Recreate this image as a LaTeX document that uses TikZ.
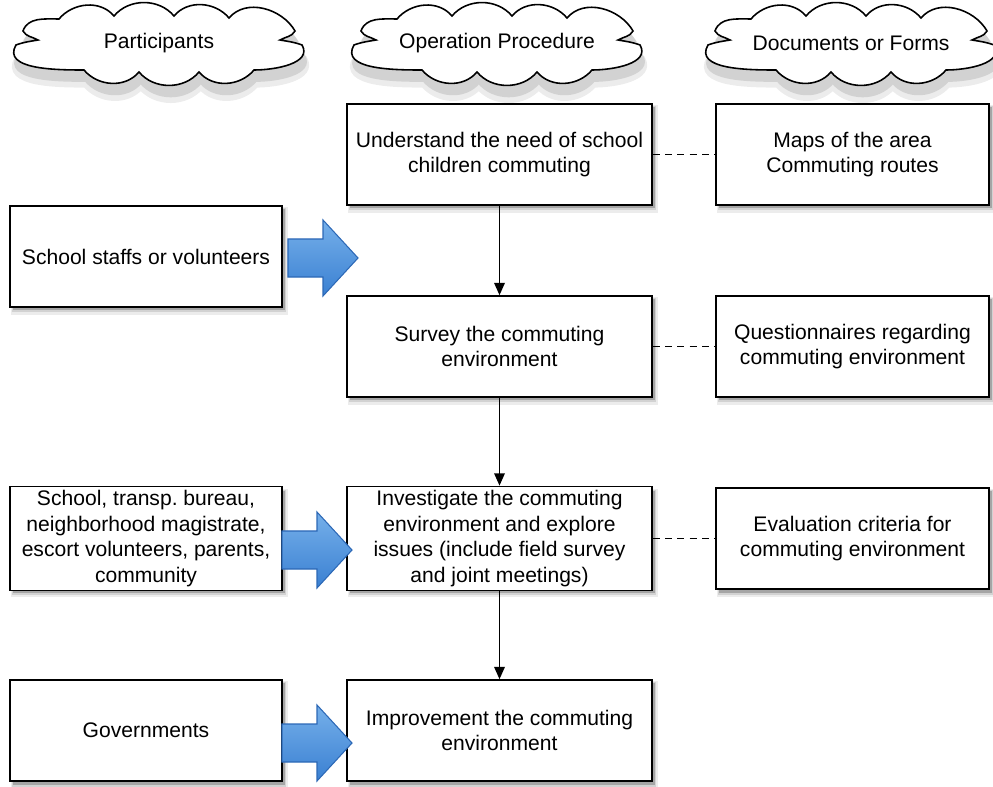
\documentclass[tikz,border=0pt]{standalone}
\usepackage{fontspec}
\setmainfont{Liberation Sans}
\usetikzlibrary{arrows.meta}
\definecolor{arrowtop}{RGB}{118, 176, 234}
\definecolor{arrowbot}{RGB}{58, 128, 210}
\definecolor{arrowedge}{RGB}{44, 104, 182}
\definecolor{shadeA}{RGB}{236, 236, 236}
\definecolor{shadeB}{RGB}{210, 210, 210}
\definecolor{shadeC}{RGB}{165, 165, 165}

% outline of the scroll-like cloud, in px around its centre
\newcommand\bannerpath{(-136,12) to[out=70,in=180] (-100,24)
  to[out=50,in=130] (-45,27) to[out=50,in=130] (15,27)
  to[out=50,in=130] (70,25) to[out=50,in=120] (136,12)
  to[out=-120,in=30] (121,3) to[out=-10,in=160] (143,-2)
  to[out=-60,in=0] (95,-27) to[out=-130,in=-50] (40,-29)
  to[out=-130,in=-50] (-20,-29) to[out=-130,in=-50] (-75,-27)
  to[out=180,in=-120] (-143,-2) to[out=20,in=190] (-121,3)
  to[out=150,in=-60] cycle}

\tikzset{
  headtext/.style={font=\fontsize{12}{14.7}\selectfont, inner sep=0pt},
  stepbox/.style={draw, line width=0.9pt, fill=white, minimum height=2.02cm, align=center, inner sep=2pt,
    font=\fontsize{12}{14.7}\selectfont},
  flow/.style={line width=0.9pt, -{Triangle[length=7pt, width=6pt]}},
  link/.style={line width=0.8pt, dash pattern=on 4pt off 3pt},
  pics/banner/.style={code={
    \begin{scope}[x=0.02cm, y=0.02cm]
      \filldraw[shadeA, line width=4pt, xshift=1, yshift=-8] \bannerpath;
      \filldraw[shadeB, line width=1.5pt, xshift=1, yshift=-6] \bannerpath;
      \draw[line width=0.9pt, fill=white] \bannerpath;
    \end{scope}
  }},
  % fat blue arrow pointing right
  pics/blockarrow/.style={code={
    \draw[arrowedge, line width=0.6pt, top color=arrowtop, bottom color=arrowbot, x=0.02cm, y=0.02cm]
      (-35,-19) -- (0,-19) -- (0,-38) -- (35,0) -- (0,38) -- (0,19) -- (-35,19) -- cycle;
  }}
}

\begin{document}
\begin{tikzpicture}
  \useasboundingbox (0,0) rectangle (19.86,-15.74);

  % Column headers
  \pic at (3.18, -0.86) {banner};
  \pic at (9.94, -0.86) {banner};
  \pic at (17.02, -0.86) {banner};
  \node[headtext] (hpart) at (3.18, -0.86) {Participants};
  \node[headtext] (hproc) at (9.94, -0.86) {Operation Procedure};
  \node[headtext] (hdoc) at (17.02, -0.86) {Documents or Forms};

  % soft shadows under the boxes (centre x / centre y / width)
  \foreach \cx/\cy/\w in {9.99/-3.09/6.1, 9.99/-6.93/6.1, 9.99/-10.77/6.1, 9.99/-14.61/6.1,
                          2.92/-5.13/5.44, 2.92/-10.77/5.44, 2.92/-14.61/5.44,
                          17.05/-3.09/5.46, 17.05/-6.93/5.46, 17.05/-10.77/5.46} {
    \fill[shadeA] (\cx-\w/2+0.02, \cy-1.01-0.16) rectangle (\cx+\w/2+0.12, \cy+1.01-0.02);
    \fill[shadeB] (\cx-\w/2+0.04, \cy-1.01-0.11) rectangle (\cx+\w/2+0.08, \cy+1.01-0.04);
    \fill[shadeC] (\cx-\w/2+0.06, \cy-1.01-0.07) rectangle (\cx+\w/2+0.05, \cy+1.01-0.06);
  }

  % Operation procedure
  \node[stepbox, minimum width=6.1cm] (understand) at (9.99, -3.09) {Understand the need of school\\children commuting};
  \node[stepbox, minimum width=6.1cm] (survey) at (9.99, -6.93) {Survey the commuting\\environment};
  \node[stepbox, minimum width=6.1cm] (investigate) at (9.99, -10.77) {Investigate the commuting\\environment and explore\\issues (include field survey\\and joint meetings)};
  \node[stepbox, minimum width=6.1cm] (improve) at (9.99, -14.61) {Improvement the commuting\\environment};

  % Participants
  \node[stepbox, minimum width=5.44cm] (staff) at (2.92, -5.13) {School staffs or volunteers};
  \node[stepbox, minimum width=5.44cm] (parties) at (2.92, -10.77) {School, transp.\ bureau,\\neighborhood magistrate,\\escort volunteers, parents,\\community};
  \node[stepbox, minimum width=5.44cm] (govt) at (2.92, -14.61) {Governments};

  % Documents or forms
  \node[stepbox, minimum width=5.46cm] (maps) at (17.05, -3.09) {Maps of the area\\Commuting routes};
  \node[stepbox, minimum width=5.46cm] (quest) at (17.05, -6.93) {Questionnaires regarding\\commuting environment};
  \node[stepbox, minimum width=5.46cm] (criteria) at (17.05, -10.77) {Evaluation criteria for\\commuting environment};

  % Flow of the procedure
  \draw[flow] (understand) -- (survey);
  \draw[flow] (survey) -- (investigate);
  \draw[flow] (investigate) -- (improve);

  % Related documents
  \draw[link] (understand) -- (maps);
  \draw[link] (survey) -- (quest);
  \draw[link] (investigate) -- (criteria);

  % Who takes part
  \pic (astaff) at (6.46, -5.16) {blockarrow};
  \pic (aparties) at (6.34, -11.0) {blockarrow};
  \pic (agovt) at (6.34, -14.86) {blockarrow};
\end{tikzpicture}
\end{document}
